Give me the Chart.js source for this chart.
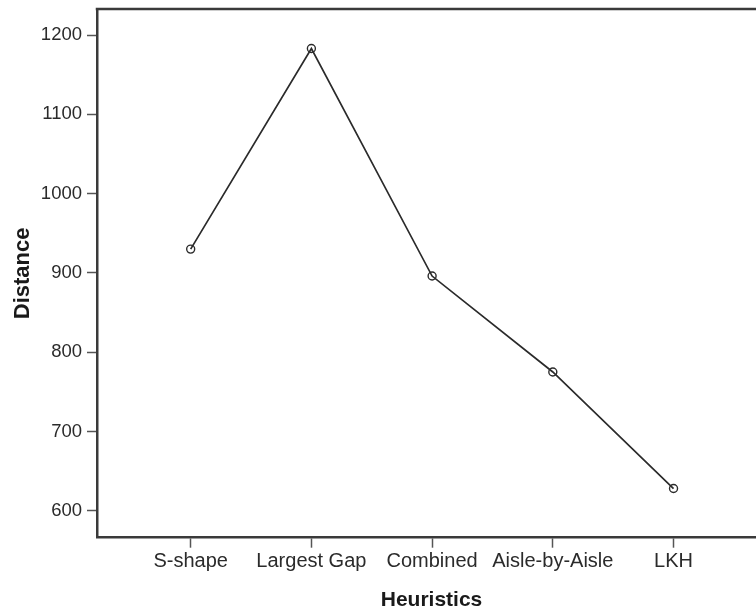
<!DOCTYPE html>
<html>
<head>
<meta charset="utf-8">
<title>Distance by heuristic</title>
<script src="https://cdn.jsdelivr.net/npm/chart.js@4"></script>
<style>
  html, body { margin: 0; padding: 0; background: #fff; overflow: hidden; }
  #wrap { position: relative; width: 780px; height: 615px; }
</style>
</head>
<body>
<div id="wrap"><canvas id="chart"></canvas></div>
<script>
// data
const heuristics = ['S-shape', 'Largest Gap', 'Combined', 'Aisle-by-Aisle', 'LKH'];
const distances = [930, 1183, 896, 775, 628];
const yTicks = [600, 700, 800, 900, 1000, 1100, 1200];

const INK = '#2b2b2b';
const FRAME = '#3a3a3a';

Chart.defaults.font.family = '"Liberation Sans", Arial, sans-serif';
Chart.defaults.color = INK;

// top edge of the box (the right edge falls outside the window)
const frameTop = {
  id: 'frameTop',
  afterDraw(chart) {
    const { ctx, chartArea: a } = chart;
    ctx.save();
    ctx.strokeStyle = FRAME;
    ctx.lineWidth = 2.5;
    ctx.beginPath();
    ctx.moveTo(a.left - 1.25, a.top);
    ctx.lineTo(a.right, a.top);
    ctx.lineTo(a.right, a.bottom);
    ctx.stroke();
    ctx.restore();
  }
};

new Chart(document.getElementById('chart'), {
  type: 'line',
  data: {
    datasets: [{
      data: distances.map((v, i) => ({ x: i, y: v })),
      borderColor: INK,
      borderWidth: 1.7,
      pointRadius: 4,
      pointBorderWidth: 1.4,
      pointBorderColor: INK,
      pointBackgroundColor: 'rgba(0,0,0,0)',
      tension: 0
    }]
  },
  options: {
    responsive: true,
    maintainAspectRatio: false,
    animation: false,
    layout: { padding: { top: 9, left: 0, right: 14, bottom: 0 } },
    plugins: { legend: { display: false }, tooltip: { enabled: false } },
    scales: {
      x: {
        type: 'linear',
        min: -0.776,
        max: 4.766,
        afterBuildTicks: (scale) => { scale.ticks = heuristics.map((h, i) => ({ value: i })); },
        afterFit: (scale) => { scale.height = 77.3; scale.paddingLeft = 0; scale.paddingRight = 0; },
        ticks: {
          autoSkip: false,
          maxRotation: 0,
          padding: 2,
          color: INK,
          font: { size: 20 },
          callback: (v) => heuristics[v]
        },
        grid: { drawOnChartArea: false, tickLength: 10, tickColor: '#555', tickWidth: 1.5 },
        border: { color: FRAME, width: 2.5 },
        title: {
          display: true,
          text: 'Heuristics',
          color: '#1a1a1a',
          font: { size: 21, weight: 'bold' },
          padding: { top: 0, bottom: 2 }
        }
      },
      y: {
        min: 566,
        max: 1232.8,
        afterBuildTicks: (scale) => { scale.ticks = yTicks.map(v => ({ value: v })); },
        afterFit: (scale) => { scale.width = 97; scale.paddingTop = 0; scale.paddingBottom = 0; },
        ticks: { padding: 5, color: INK, font: { size: 18.5 }, callback: (v) => String(v) },
        grid: { drawOnChartArea: false, tickLength: 10, tickColor: '#555', tickWidth: 1.5 },
        border: { color: FRAME, width: 2.5 },
        title: {
          display: true,
          text: 'Distance',
          color: '#1a1a1a',
          font: { size: 22, weight: 'bold' },
          padding: { top: 10, bottom: 0 }
        }
      }
    }
  },
  plugins: [frameTop]
});
</script>
</body>
</html>
